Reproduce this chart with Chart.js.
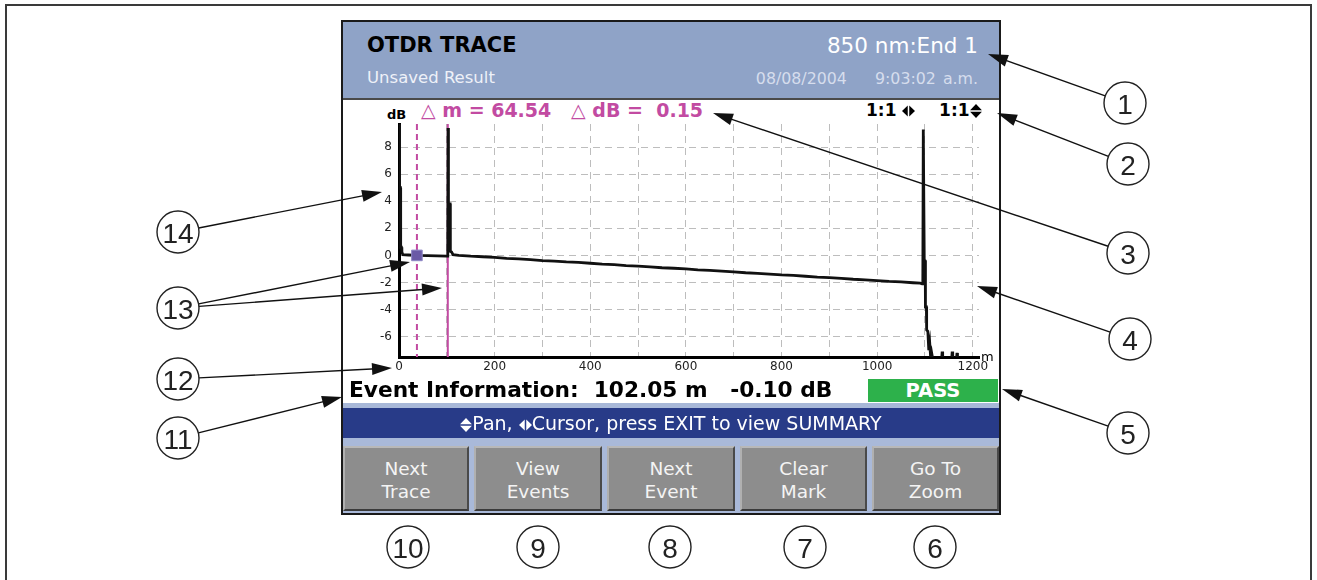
<!DOCTYPE html>
<html lang="en">
<head>
<meta charset="UTF-8">
<title>OTDR Trace</title>
<script src="https://cdn.jsdelivr.net/npm/chart.js@4.4.0/dist/chart.umd.min.js"></script>
<style>
    body { margin: 0; width: 1317px; height: 580px; overflow: hidden; background: #fff; position: relative; font-family: "DejaVu Sans", Verdana, sans-serif; }
    .abs { position: absolute; }
    #frame { left: 5px; top: 4px; width: 1307px; height: 620px; border: 2px solid #3a3a3a; box-sizing: border-box; }
    #screen { left: 341px; top: 20px; width: 660px; height: 495px; border: 2px solid #1a1a1a; box-sizing: border-box; background: #fff; }
    #header { left: 343px; top: 22px; width: 656px; height: 76px; background: #8fa3c7; border-bottom: 2px solid #4a4a4a; }
    #title { left: 367px; top: 33px; font-size: 21px; font-weight: bold; color: #000; }
    #unsaved { left: 367px; top: 68px; font-size: 16.5px; color: #eef1f8; }
    #wave { right: 339px; top: 33px; font-size: 21.5px; color: #fff; }
    #stamp { right: 339px; top: 69px; font-size: 15.8px; color: #d6dded; word-spacing: 2px; }
    #delta { left: 421px; top: 99px; font-size: 19px; font-weight: bold; color: #c24ba2; white-space: pre; }
    #zoomInfo { left: 866px; top: 100px; font-size: 17px; font-weight: bold; color: #000; white-space: pre; }
    #dbLbl { left: 387px; top: 107px; font-size: 13px; font-weight: bold; color: #000; }
    #mLbl { left: 981px; top: 349px; font-size: 13px; color: #000; }
    #chartWrap { left: 343px; top: 100px; }
    #eventInfo { left: 349px; top: 377px; font-size: 21.7px; font-weight: bold; color: #000; white-space: pre; }
    #pass { left: 868px; top: 379px; width: 130px; height: 23px; background: #2db14b; color: #fff; font-size: 19.5px; font-weight: bold; text-align: center; line-height: 24px; }
    #strip { left: 343px; top: 403px; width: 656px; height: 5px; background: #a8b8d8; }
    #hint { left: 343px; top: 408px; width: 656px; height: 30px; background: #283b88; color: #fff; font-size: 19px; text-align: center; line-height: 30px; }
    #btnArea { left: 343px; top: 438px; width: 656px; height: 75px; background: #a9b9d9; }
    .btn { position: absolute; top: 446px; height: 65px; background: #8d8d8d; border: 2px solid; border-color: #b8b8b8 #4a4a4a #3a3a3a #b0b0b0; box-sizing: border-box;
           color: #f4f4f4; font-size: 18.5px; text-align: center; line-height: 23px; padding-top: 9px; }
    svg.ic { display: inline-block; vertical-align: middle; fill: currentColor; }
    #callouts { left: 0; top: 0; }
</style>
</head>
<body>
<div id="frame" class="abs"></div>
<div id="screen" class="abs"></div>
<div id="header" class="abs"></div>
<div id="title" class="abs">OTDR TRACE</div>
<div id="unsaved" class="abs">Unsaved Result</div>
<div id="wave" class="abs">850 nm:End 1</div>
<div id="stamp" class="abs">08/08/2004&nbsp;&nbsp;&nbsp;&nbsp;9:03:02 a.m.</div>
<div id="dbLbl" class="abs">dB</div>
<div id="delta" class="abs">△ m = 64.54   △ dB =  0.15</div>
<div id="zoomInfo" class="abs">1:1 <svg class="ic" width="13" height="12" viewBox="0 0 12 11"><path d="M0 5.5L5.3 0.5V10.5Z M12 5.5L6.7 0.5V10.5Z"/></svg>    1:1<svg class="ic" width="12" height="14" viewBox="0 0 11 13"><path d="M5.5 0L11 5.8H0Z M5.5 13L11 7.2H0Z"/></svg></div>
<div id="chartWrap" class="abs"><canvas id="otdrChart" width="656" height="278"></canvas></div>
<div id="mLbl" class="abs">m</div>
<div id="eventInfo" class="abs">Event Information:  102.05 m   -0.10 dB</div>
<div id="pass" class="abs">PASS</div>
<div id="strip" class="abs"></div>
<div id="hint" class="abs"><svg class="ic" width="12" height="14" viewBox="0 0 11 13"><path d="M5.5 0L11 5.8H0Z M5.5 13L11 7.2H0Z"/></svg>Pan, <svg class="ic" width="13" height="12" viewBox="0 0 12 11"><path d="M0 5.5L5.3 0.5V10.5Z M12 5.5L6.7 0.5V10.5Z"/></svg>Cursor, press EXIT to view SUMMARY</div>
<div id="btnArea" class="abs"></div>
<div class="btn" style="left:343px;width:126px">Next<br>Trace</div>
<div class="btn" style="left:474px;width:128px">View<br>Events</div>
<div class="btn" style="left:607px;width:128px">Next<br>Event</div>
<div class="btn" style="left:740px;width:127px">Clear<br>Mark</div>
<div class="btn" style="left:872px;width:127px">Go To<br>Zoom</div>
<svg id="callouts" class="abs" width="1317" height="580"></svg>

<script>
    // trace: distance (m) and level (dB)
    const distM = [0, 1, 1.5, 3, 3.5, 5, 6, 8, 20, 37.5, 60, 80, 100, 102,
        102.6, 103.2, 103.6, 107, 107.4, 110, 113,
        125, 150, 175, 200, 225, 250, 275, 300, 325, 350, 375, 400, 425, 450, 475, 500,
        525, 550, 575, 600, 625, 650, 675, 700, 725, 750, 775, 800, 825, 850, 875, 900,
        925, 950, 975, 1000, 1025, 1050, 1075, 1090, 1094, 1095.5,
        1096.5, 1097.5, 1098.5, 1100.5, 1101, 1103, 1103.5, 1106, 1108, 1110, 1112, 1114, 1116,
        1135, 1136, 1137, 1156, 1157, 1158, 1166, 1167, 1168, 1213];
    const traceDb = [9.7, 9.7, 5.0, 5.0, 0.6, 0.6, 0.25, 0.05, 0.03, 0.0, -0.02, -0.03, -0.05, -0.05,
        9.4, 9.4, 3.8, 3.8, 0.3, 0.25, 0.05,
        0.0, -0.06, -0.1, -0.15, -0.22, -0.26, -0.31, -0.38, -0.42, -0.48, -0.52, -0.58, -0.64, -0.68, -0.75, -0.79,
        -0.84, -0.91, -0.95, -1.0, -1.07, -1.11, -1.16, -1.22, -1.28, -1.32, -1.38, -1.44, -1.48, -1.54, -1.6, -1.64,
        -1.7, -1.76, -1.8, -1.86, -1.92, -1.96, -2.02, -2.05, -2.1, -2.0,
        9.3, 9.3, -0.35, -0.4, -3.8, -3.8, -5.5, -5.6, -7.0, -6.5, -7.6, -7.2, -7.6,
        -7.6, -7.1, -7.6, -7.6, -7.1, -7.6, -7.6, -7.2, -7.6, -7.6];

    // cursors and event
    const cursorDashedM = 37.5;
    const cursorSolidM = 102.05;
    const eventM = [102.5, 102.5];
    const eventDb = [-0.05, 9.4];
    const markerM = [37.5];
    const markerDb = [0.0];

    const xTickVals = [0, 100, 200, 300, 400, 500, 600, 700, 800, 900, 1000, 1100, 1200];
    const yTickVals = [-6, -4, -2, 0, 2, 4, 6, 8];

    const cursorPlugin = {
        id: 'cursors',
        beforeDatasetsDraw(chart) {
            const { ctx, chartArea, scales } = chart;
            ctx.save();
            ctx.strokeStyle = '#c24ba2';
            ctx.lineWidth = 2;
            ctx.setLineDash([6, 4]);
            let x = scales.x.getPixelForValue(cursorDashedM);
            ctx.beginPath(); ctx.moveTo(x, chartArea.top); ctx.lineTo(x, chartArea.bottom); ctx.stroke();
            ctx.setLineDash([]);
            x = scales.x.getPixelForValue(cursorSolidM);
            ctx.beginPath(); ctx.moveTo(x, chartArea.top); ctx.lineTo(x, chartArea.bottom); ctx.stroke();
            ctx.restore();
        }
    };

    const tickFont = { family: 'DejaVu Sans', size: 12 };

    new Chart(document.getElementById('otdrChart'), {
        type: 'line',
        data: {
            datasets: [
                {
                    data: markerM.map((m, i) => ({ x: m, y: markerDb[i] })),
                    showLine: false, pointStyle: 'rect', pointRadius: 7.5,
                    pointBackgroundColor: '#6a5aa6', pointBorderColor: '#8f88c6', pointBorderWidth: 1,
                    order: -1
                },
                {
                    data: distM.map((m, i) => ({ x: m, y: traceDb[i] })),
                    borderColor: '#111', borderWidth: 2.8, pointRadius: 0, tension: 0,
                    order: 0
                },
                {
                    data: eventM.map((m, i) => ({ x: m, y: eventDb[i] })),
                    borderColor: '#2ea043', borderWidth: 2, pointRadius: 0,
                    order: 1
                }
            ]
        },
        options: {
            responsive: false,
            animation: false,
            layout: { padding: { top: 24, right: 20, left: 0, bottom: 0 } },
            plugins: { legend: { display: false }, tooltip: { enabled: false } },
            scales: {
                x: {
                    type: 'linear', min: 0, max: 1213,
                    afterFit(s) { s.height = 21; },
                    afterBuildTicks(s) { s.ticks = xTickVals.map(v => ({ value: v })); },
                    ticks: { callback: v => (v % 200 === 0 ? v : ''), font: tickFont, color: '#222', padding: 3, maxRotation: 0, autoSkip: false },
                    grid: { color: '#bdbdbd', lineWidth: 1, drawTicks: false },
                    border: { color: '#000', width: 3, dash: [7, 5] }
                },
                y: {
                    min: -7.5, max: 9.7,
                    afterFit(s) { s.width = 56; },
                    afterBuildTicks(s) { s.ticks = yTickVals.map(v => ({ value: v })); },
                    ticks: { font: tickFont, color: '#222', padding: 7 },
                    grid: { color: '#bdbdbd', lineWidth: 1, drawTicks: false },
                    border: { color: '#000', width: 3, dash: [7, 5] }
                }
            }
        },
        plugins: [cursorPlugin]
    });

    // numbered callouts
    const callouts = [
        { n: '1', cx: 1125, cy: 103, tips: [[988, 54]] },
        { n: '2', cx: 1128, cy: 164, tips: [[997, 113]] },
        { n: '3', cx: 1128, cy: 253, tips: [[713, 113]] },
        { n: '4', cx: 1130, cy: 339, tips: [[977, 286]] },
        { n: '5', cx: 1128, cy: 433, tips: [[1002, 389]] },
        { n: '14', cx: 178, cy: 232, tips: [[382, 192]] },
        { n: '13', cx: 178, cy: 308, tips: [[410, 262], [442, 288]] },
        { n: '12', cx: 178, cy: 379, tips: [[392, 368]] },
        { n: '11', cx: 178, cy: 438, tips: [[342, 397]] },
        { n: '10', cx: 408, cy: 547, tips: [] },
        { n: '9', cx: 538, cy: 547, tips: [] },
        { n: '8', cx: 670, cy: 547, tips: [] },
        { n: '7', cx: 805, cy: 547, tips: [] },
        { n: '6', cx: 935, cy: 547, tips: [] }
    ];
    const svg = document.getElementById('callouts');
    const r = 21, headL = 20, headW = 6;
    let out = '';
    callouts.forEach(c => {
        c.tips.forEach(([tx, ty]) => {
            const dx = tx - c.cx, dy = ty - c.cy, len = Math.hypot(dx, dy);
            const ux = dx / len, uy = dy / len, px = -uy, py = ux;
            const sx = c.cx + ux * r, sy = c.cy + uy * r;
            const bx = tx - ux * headL, by = ty - uy * headL;
            out += `<line x1="${sx}" y1="${sy}" x2="${bx + ux * 4}" y2="${by + uy * 4}" stroke="#111" stroke-width="1.4"/>`;
            out += `<polygon points="${tx},${ty} ${bx + px * headW},${by + py * headW} ${bx - px * headW},${by - py * headW}" fill="#111"/>`;
        });
        out += `<circle cx="${c.cx}" cy="${c.cy}" r="${r}" fill="#fff" stroke="#222" stroke-width="1.4"/>`;
        out += `<text x="${c.cx}" y="${c.cy + 1}" text-anchor="middle" dominant-baseline="central" font-family="Liberation Sans, Arial, sans-serif" font-size="28" fill="#222">${c.n}</text>`;
    });
    svg.innerHTML = out;
</script>
</body>
</html>
